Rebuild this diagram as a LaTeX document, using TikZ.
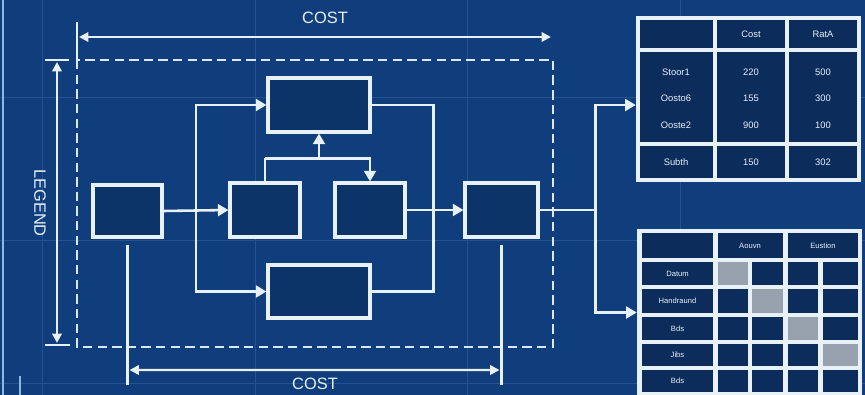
\documentclass[tikz,border=0pt]{standalone}
\usepackage{fontspec}
\setmainfont{Liberation Sans}
\usetikzlibrary{arrows.meta,calc}
\definecolor{paper}{RGB}{16,62,124}
\definecolor{cell}{RGB}{12,45,92}
\definecolor{boxfill}{RGB}{13,52,104}
\definecolor{ink}{RGB}{232,240,248}
\definecolor{gridline}{RGB}{34,84,148}
\definecolor{greycell}{RGB}{152,162,174}
\definecolor{edge}{RGB}{140,185,225}

\begin{document}
\begin{tikzpicture}[x=0.03cm, y=-0.03cm,
    block/.style={draw=ink, line width=2.6pt, fill=boxfill, inner sep=0pt, minimum width=2.1cm, minimum height=1.62cm},
    wide/.style={block, minimum width=3.06cm},
    arrow/.style={-{Triangle[length=9pt,width=10pt]}, draw=ink, line width=2.2pt},
    link/.style={draw=ink, line width=2.2pt},
    dim/.style={{Triangle[length=8pt,width=8pt]}-{Triangle[length=8pt,width=8pt]}, draw=ink, line width=1.9pt},
    extline/.style={draw=ink, line width=1.8pt},
    dimtext/.style={text=ink, inner sep=0pt, font=\fontsize{14}{15}\selectfont},
    celltext/.style={text=ink, inner sep=0pt, font=\fontsize{8}{9}\selectfont},
    smalltext/.style={text=ink, inner sep=0pt, font=\fontsize{6.5}{7}\selectfont},
    tablebox/.style={fill=ink, inner sep=0pt, minimum width=6.75cm}
]
    % paper and faint grid
    \fill[paper] (0,0) rectangle (865,395);
    \useasboundingbox (0,0) rectangle (865,395);
    \foreach \gx in {42,255,467,680}
        \draw[gridline, line width=0.8pt] (\gx,0) -- (\gx,395);
    \foreach \gy in {97,240,383}
        \draw[gridline, line width=0.8pt] (0,\gy) -- (865,\gy);
    \draw[edge, line width=2.5pt] (3,0) -- (3,395);
    \draw[edge, line width=2pt] (20,376) -- (20,395);

    % dashed frame
    \draw[ink!85!edge, line width=1.6pt, dash pattern=on 8pt off 4.5pt] (77,60) rectangle (553,347);

    % blocks
    \node[block, minimum width=2.07cm, minimum height=1.56cm] (src) at (127.5,211) {};
    \node[wide] (upper) at (319,105) {};
    \node[block] (left) at (265,210) {};
    \node[block] (right) at (370,210) {};
    \node[wide, minimum height=1.59cm] (lower) at (319,291.5) {};
    \node[block, minimum width=2.19cm] (sink) at (501.5,210) {};

    % tables
    \node[tablebox, minimum height=4.98cm] (costtab) at (748.5,99) {};
    \node[tablebox, minimum height=5.01cm] (mattab) at (749.5,312.5) {};

    % flow
    \coordinate (split) at ($(src.east)!0.5!(left.west)$);
    \draw[arrow] (src.east) -- (left.west);
    \draw[arrow] (split) |- (upper.west);
    \draw[arrow] (split) |- (lower.west);
    \coordinate (bridge) at ($(left.north)+(0,-23)$);
    \draw[link] (left.north) -- (bridge);
    \draw[arrow] (bridge) -| (right.north);
    \draw[arrow] (bridge -| upper.south) -- (upper.south);
    \draw[link] (upper.east) -- ++(62,0) |- (lower.east);
    \draw[arrow] (right.east) -- (sink.west);
    \coordinate (fork) at ($(sink.east)+(56,0)$);
    \draw[link] (sink.east) -- (fork);
    \draw[arrow] (fork) |- (costtab.west |- upper.east);
    \draw[arrow] (fork) |- (mattab.west);

    % dimensions
    \draw[extline] (77,22) -- (77,60);
    \draw[dim] (79,37) -- (551,37);
    \node[dimtext] (costtop) at (325,18) {COST};
    \draw[extline] (45,60) -- (69,60);
    \draw[extline] (45,345) -- (70,345);
    \draw[dim] (57,62) -- (57,343);
    \node[dimtext, rotate=-90] (legend) at (40,203) {LEGEND};
    \draw[extline] ($(src.south)+(0,6)$) -- ++(0,140);
    \draw[extline] ($(sink.south)+(0,6)$) -- ++(0,140);
    \draw[dim] ($(src.south)+(2,131.5)$) -- ($(sink.south)+(-2,131.5)$);
    \node[dimtext] (costbot) at (315,384) {COST};

    % cost table
    \foreach \xa/\xb in {640/713,717/785,789/857}
        \foreach \ya/\yb in {20/48,52/142,146/178}
            \fill[cell] (\xa,\ya) rectangle (\xb,\yb);
    \node[celltext] (headcost) at (751,34) {Cost};
    \node[celltext] (headrate) at (823,34) {RatA};
    \foreach \lab/\ca/\cb/\yy [count=\i] in {Stoor1/220/500/72, Oosto6/155/300/98, Ooste2/900/100/125, Subth/150/302/162} {
        \node[celltext] (key\i) at (676,\yy) {\lab};
        \node[celltext] (costv\i) at (751,\yy) {\ca};
        \node[celltext] (ratev\i) at (823,\yy) {\cb};
    }

    % matrix table
    \foreach \xa/\xb in {642/713,718/783,788/858}
        \fill[cell] (\xa,233) rectangle (\xb,258);
    \foreach \ya/\yb [count=\rr] in {262/285,289/313,317/340,344/366,370/392} {
        \fill[cell] (642,\ya) rectangle (713,\yb);
        \foreach \xa/\xb [count=\cc] in {718/748,752/783,788/818,823/858} {
            \ifnum\rr=\cc
                \fill[greycell] (\xa,\ya) rectangle (\xb,\yb);
            \else
                \fill[cell] (\xa,\ya) rectangle (\xb,\yb);
            \fi
        }
    }
    \node[smalltext] (headact) at (750,245.5) {Aouvn};
    \node[smalltext] (headcus) at (823,245.5) {Eustion};
    \foreach \lab/\yy [count=\i] in {Datum/273.5, Handraund/301, Bds/328.5, Jibs/355, Bds/381}
        \node[smalltext] (row\i) at (677.5,\yy) {\lab};
\end{tikzpicture}
\end{document}
